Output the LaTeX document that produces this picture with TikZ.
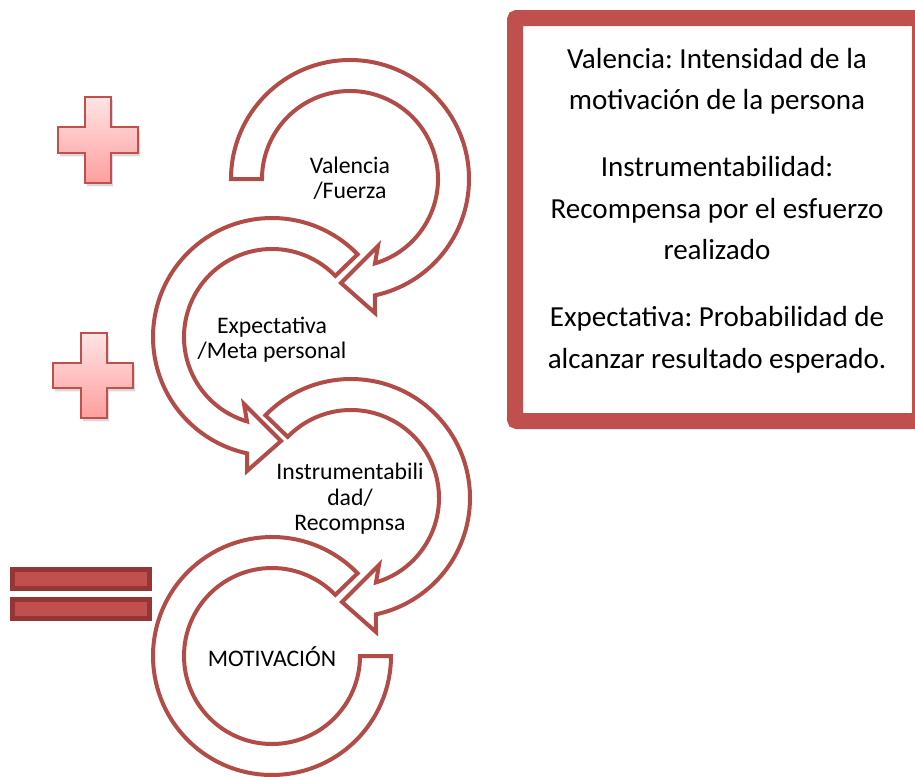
\documentclass[tikz,border=0pt]{standalone}
\usepackage{fontspec}
\setmainfont{Carlito}
\usetikzlibrary{shadows}
\frenchspacing

\definecolor{ringred}{RGB}{178,76,72}
\definecolor{boxred}{RGB}{192,80,77}
\definecolor{bardark}{RGB}{148,54,52}
\definecolor{crosstop}{RGB}{255,228,228}
\definecolor{crossbot}{RGB}{255,158,158}

\tikzset{
  ring/.style={draw=ringred, line width=3pt, fill=white, line join=miter},
  crossmark/.style={draw=boxred, line width=1.6pt, top color=crosstop, bottom color=crossbot,
    drop shadow={opacity=0.3, shadow xshift=1.5pt, shadow yshift=-2.5pt}},
  eqbar/.style={draw=bardark, line width=3.6pt, fill=boxred},
  defframe/.style={draw=boxred, line width=12pt, rounded corners=1.5pt},
  lbl/.style={font=\fontsize{17.8}{19.1}\selectfont, align=center, inner sep=0pt},
  deftext/.style={font=\fontsize{21.8}{31.1}\selectfont, align=center, inner sep=0pt}
}

\begin{document}
\begin{tikzpicture}[x=0.75pt,y=0.75pt,yscale=-1,xscale=1]
\path[use as bounding box, clip] (0,0) rectangle (915,776);

%Shape: Cross
\draw[crossmark] (85,97) -- (111,97) -- (111,127) -- (138,127) -- (138,153) -- (111,153) -- (111,183) -- (85,183) -- (85,153) -- (58,153) -- (58,127) -- (85,127) -- cycle;

%Shape: Cross
\draw[crossmark] (81,333) -- (107,333) -- (107,363) -- (133,363) -- (133,388) -- (107,388) -- (107,418) -- (81,418) -- (81,388) -- (53,388) -- (53,363) -- (81,363) -- cycle;

%Shape: Equal bars
\draw[eqbar] (12.5,569.5) rectangle (149.5,588.5);
\draw[eqbar] (12.5,599.5) rectangle (149.5,618.5);

%Shape: Circular Arrow
\begin{scope}[shift={(272,656)}]
\draw[ring] (-44:119) arc[start angle=-44, end angle=-360, radius=119] -- (-360:88) arc[start angle=-360, end angle=-44, radius=88] -- cycle;
\end{scope}

%Shape: Circular Arrow
\begin{scope}[shift={(351,498)}]
\draw[ring] (-136:119) arc[start angle=-136, end angle=77.9, radius=119] -- (25,134) -- (-9,104) -- (28,67) -- (73.5:88) arc[start angle=73.5, end angle=-136, radius=88] -- cycle;
\end{scope}

%Shape: Circular Arrow
\begin{scope}[shift={(272,337)}]
\draw[ring] (-44:119) arc[start angle=-44, end angle=-257.9, radius=119] -- (-25,134) -- (9,104) -- (-28,67) -- (-253.5:88) arc[start angle=-253.5, end angle=-44, radius=88] -- cycle;
\end{scope}

%Shape: Circular Arrow
\begin{scope}[shift={(350,179)}]
\draw[ring] (180:119) arc[start angle=180, end angle=437.9, radius=119] -- (25,134) -- (-9,104) -- (28,67) -- (433.5:88) arc[start angle=433.5, end angle=180, radius=88] -- cycle;
\end{scope}

% Text Node
\node[lbl] (valencia) at (350,181) {\strut Valencia\\/Fuerza\strut};
% Text Node
\node[lbl] (expect) at (272,341) {\strut Expectativa\\/Meta personal\strut};
% Text Node
\node[lbl] (instr) at (350,500) {\strut Instrumentabili\\dad/\\Recompnsa\strut};
% Text Node
\node[lbl] (motiv) at (272,660) {\strut MOTIVACIÓN};

%Shape: Rectangle
\draw[defframe] (515,18) rectangle (920,421);
% Text Node
\node[deftext] (defs) at (717,210) {\strut Valencia: Intensidad de la\\motivación de la persona\\[19.1pt]
  Instrumentabilidad:\\Recompensa por el esfuerzo\\realizado\\[19.1pt]
  Expectativa: Probabilidad de\\alcanzar resultado esperado.\strut};

\end{tikzpicture}
\end{document}
